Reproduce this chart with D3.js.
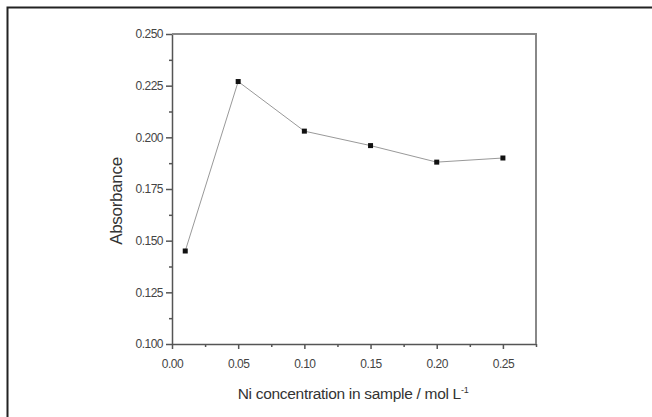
<!DOCTYPE html>
<html>
  <head>
    <meta charset="utf-8">
    <title>Absorbance vs Ni concentration</title>
    <style>
      body { margin: 0; background: white; }
      svg { display: block; }
      .tick text { font: 12px "Liberation Sans", Arial, sans-serif; fill: #444; letter-spacing: -0.5px; }
      .axis path, .axis line { stroke: #555; stroke-width: 1.5px; }
      .title { font: 15.5px "Liberation Sans", Arial, sans-serif; fill: #333; letter-spacing: -0.3px; }
    </style>
  </head>
  <body>
  <svg id="chart" width="652" height="417"></svg>
  <script src="https://d3js.org/d3.v7.min.js"></script>
  <script>
    // data
    var conc = [0.01, 0.05, 0.10, 0.15, 0.20, 0.25];
    var absorb = [0.145, 0.227, 0.203, 0.196, 0.188, 0.190];
    var xTicks = [0, 0.05, 0.10, 0.15, 0.20, 0.25];
    var yTicks = [0.100, 0.125, 0.150, 0.175, 0.200, 0.225, 0.250];

    var svg = d3.select("#chart");
    var m = {left: 172, right: 536, top: 34, bottom: 344};

    var x = d3.scaleLinear().domain([0, 0.275]).range([m.left, m.right]);
    var y = d3.scaleLinear().domain([0.100, 0.250]).range([m.bottom, m.top]);

    // outer frame (only top & left edges show)
    svg.append("path")
      .attr("d", "M7.5,417V7.5H652")
      .attr("fill", "none")
      .attr("stroke", "#222")
      .attr("stroke-width", 2);

    // minor ticks
    var xMinor = xTicks.map(function(d) { return d + 0.025; });
    var yMinor = yTicks.slice(0, -1).map(function(d) { return d + 0.0125; });

    svg.append("g").attr("class", "axis")
      .attr("transform", "translate(0," + m.bottom + ")")
      .call(d3.axisBottom(x).tickValues(xMinor).tickSize(3).tickFormat(""))
      .select(".domain").remove();
    svg.append("g").attr("class", "axis")
      .attr("transform", "translate(" + m.left + ",0)")
      .call(d3.axisLeft(y).tickValues(yMinor).tickSize(3).tickFormat(""))
      .select(".domain").remove();

    svg.append("g").attr("class", "axis")
      .attr("transform", "translate(0," + m.bottom + ")")
      .call(d3.axisBottom(x).tickValues(xTicks).tickSize(5).tickSizeOuter(0).tickPadding(10).tickFormat(d3.format(".2f")));

    svg.append("g").attr("class", "axis")
      .attr("transform", "translate(" + m.left + ",0)")
      .call(d3.axisLeft(y).tickValues(yTicks).tickSize(6).tickSizeOuter(0).tickPadding(3).tickFormat(d3.format(".3f")));

    // top and right box lines
    svg.append("path")
      .attr("d", "M" + m.left + "," + m.top + "H" + m.right + "V" + m.bottom)
      .attr("fill", "none")
      .attr("stroke", "#888")
      .attr("stroke-width", 2);

    var line = d3.line()
      .x(function(d, i) { return x(conc[i]); })
      .y(function(d) { return y(d); });

    svg.append("path")
      .datum(absorb)
      .attr("d", line)
      .attr("fill", "none")
      .attr("stroke", "#999")
      .attr("stroke-width", 1);

    svg.selectAll("rect.pt")
      .data(absorb)
      .enter().append("rect")
      .attr("class", "pt")
      .attr("x", function(d, i) { return x(conc[i]) - 2.5; })
      .attr("y", function(d) { return y(d) - 2.5; })
      .attr("width", 5)
      .attr("height", 5)
      .attr("fill", "#111");

    // axis titles
    var xt = svg.append("text")
      .attr("class", "title")
      .attr("x", (m.left + m.right) / 2 - 1)
      .attr("y", 399)
      .attr("text-anchor", "middle");
    xt.append("tspan").text("Ni concentration in sample / mol L");
    xt.append("tspan").attr("dy", -6).style("font-size", "9px").text("-1");

    svg.append("text")
      .attr("class", "title")
      .attr("transform", "translate(122,201) rotate(-90)")
      .attr("text-anchor", "middle")
      .style("font-size", "17px")
      .text("Absorbance");
  </script>
  </body>
</html>
